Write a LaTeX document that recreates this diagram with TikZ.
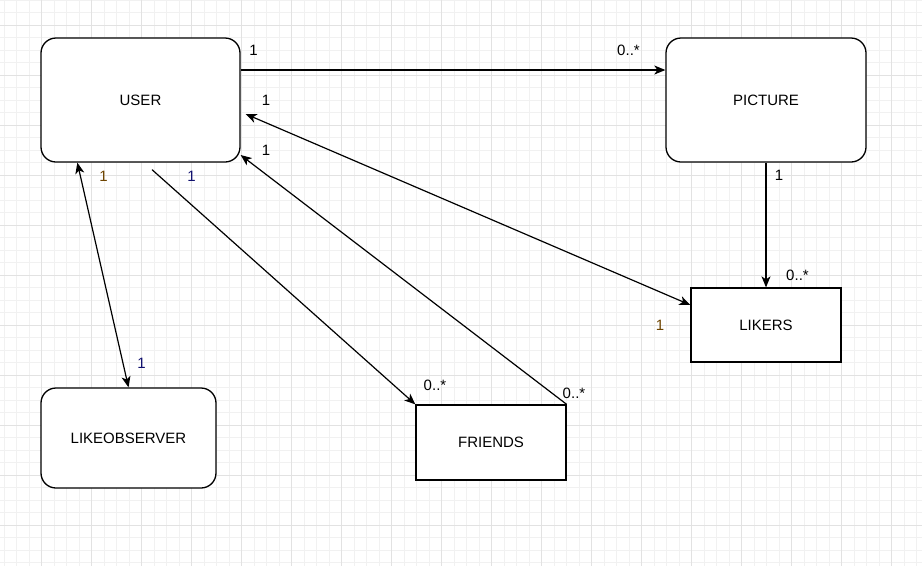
\documentclass[tikz,border=0pt]{standalone}
\usepackage{fontspec}
\setmainfont{Liberation Sans}
\usetikzlibrary{arrows.meta}
\definecolor{gridminor}{HTML}{F1F1F1}
\definecolor{gridmajor}{HTML}{E2E2E2}
\definecolor{lblbrown}{HTML}{6E4400}
\definecolor{lblnavy}{HTML}{10106E}
\tikzset{
  every node/.style={font=\fontsize{15}{18}\selectfont},
  rbox/.style={draw=black, line width=1.3pt, rounded corners=15pt, fill=white, inner sep=0pt},
  sbox/.style={draw=black, line width=1.3pt, fill=white, inner sep=0pt},
  conn/.style={draw=black, line width=1.2pt},
  tip/.tip={Stealth[length=11pt,width=9pt,inset=3pt]},
  arr/.style={conn, -tip},
  dblarr/.style={conn, tip-tip},
  lbl/.style={inner sep=0pt, text=black},
  minorline/.style={draw=gridminor, line width=0.8pt},
  majorline/.style={draw=gridmajor, line width=0.9pt}
}
\begin{document}
\begin{tikzpicture}[x=1pt, y=-1pt]
  \fill[white] (0,0) rectangle (922,566);
  \useasboundingbox (0,0) rectangle (922,566);
  % grid
  \foreach \i in {0,...,73} \draw[minorline] ({4.1667+12.5*\i},0) -- ({4.1667+12.5*\i},566);
  \foreach \i in {0,...,45} \draw[minorline] (0,{12.5*\i}) -- (922,{12.5*\i});
  \foreach \i in {0,...,17} \draw[majorline] ({41.667+50*\i},0) -- ({41.667+50*\i},566);
  \foreach \i in {0,...,10} \draw[majorline] (0,{25+50*\i}) -- (922,{25+50*\i});

  % nodes
  \node[rbox, minimum width=199pt, minimum height=124pt] (user) at (140.5,100) {USER};
  \node[rbox, minimum width=200pt, minimum height=124pt] (picture) at (766,100) {PICTURE};
  \node[sbox, minimum width=150pt, minimum height=74pt] (likers) at (766,325) {LIKERS};
  \node[sbox, minimum width=150pt, minimum height=75pt] (friends) at (491,442.5) {FRIENDS};
  \node[rbox, minimum width=175pt, minimum height=100pt] (likeobs) at (128.5,438) {LIKEOBSERVER};

  % connectors
  \draw[arr] ([yshift=30pt]user.east) -- ([yshift=30pt]picture.west);
  \draw[dblarr] ([xshift=5pt,yshift=-14pt]user.east) -- ([yshift=20pt]likers.west);
  \draw[arr] (friends.north east) -- ([yshift=-55pt]user.east);
  \draw[arr] ([xshift=11.5pt,yshift=-7pt]user.south) -- (friends.north west);
  \draw[dblarr] ([xshift=37pt]user.south west) -- (likeobs.north);
  \draw[arr] (picture.south) -- (likers.north);

  % multiplicity labels
  \node[lbl] (l1) at (253.5,50.5) {1};
  \node[lbl] (l2) at (628.5,50.5) {0..*};
  \node[lbl] (l3) at (266,100.5) {1};
  \node[lbl] (l4) at (266,150.5) {1};
  \node[lbl, text=lblbrown] (l5) at (103.5,176) {1};
  \node[lbl, text=lblnavy] (l6) at (191.5,176) {1};
  \node[lbl, text=lblnavy] (l7) at (141.5,363) {1};
  \node[lbl] (l8) at (435,385) {0..*};
  \node[lbl] (l9) at (574,393) {0..*};
  \node[lbl, text=lblbrown] (l10) at (660,325.5) {1};
  \node[lbl] (l11) at (779,175.5) {1};
  \node[lbl] (l12) at (797.5,275) {0..*};
\end{tikzpicture}
\end{document}
